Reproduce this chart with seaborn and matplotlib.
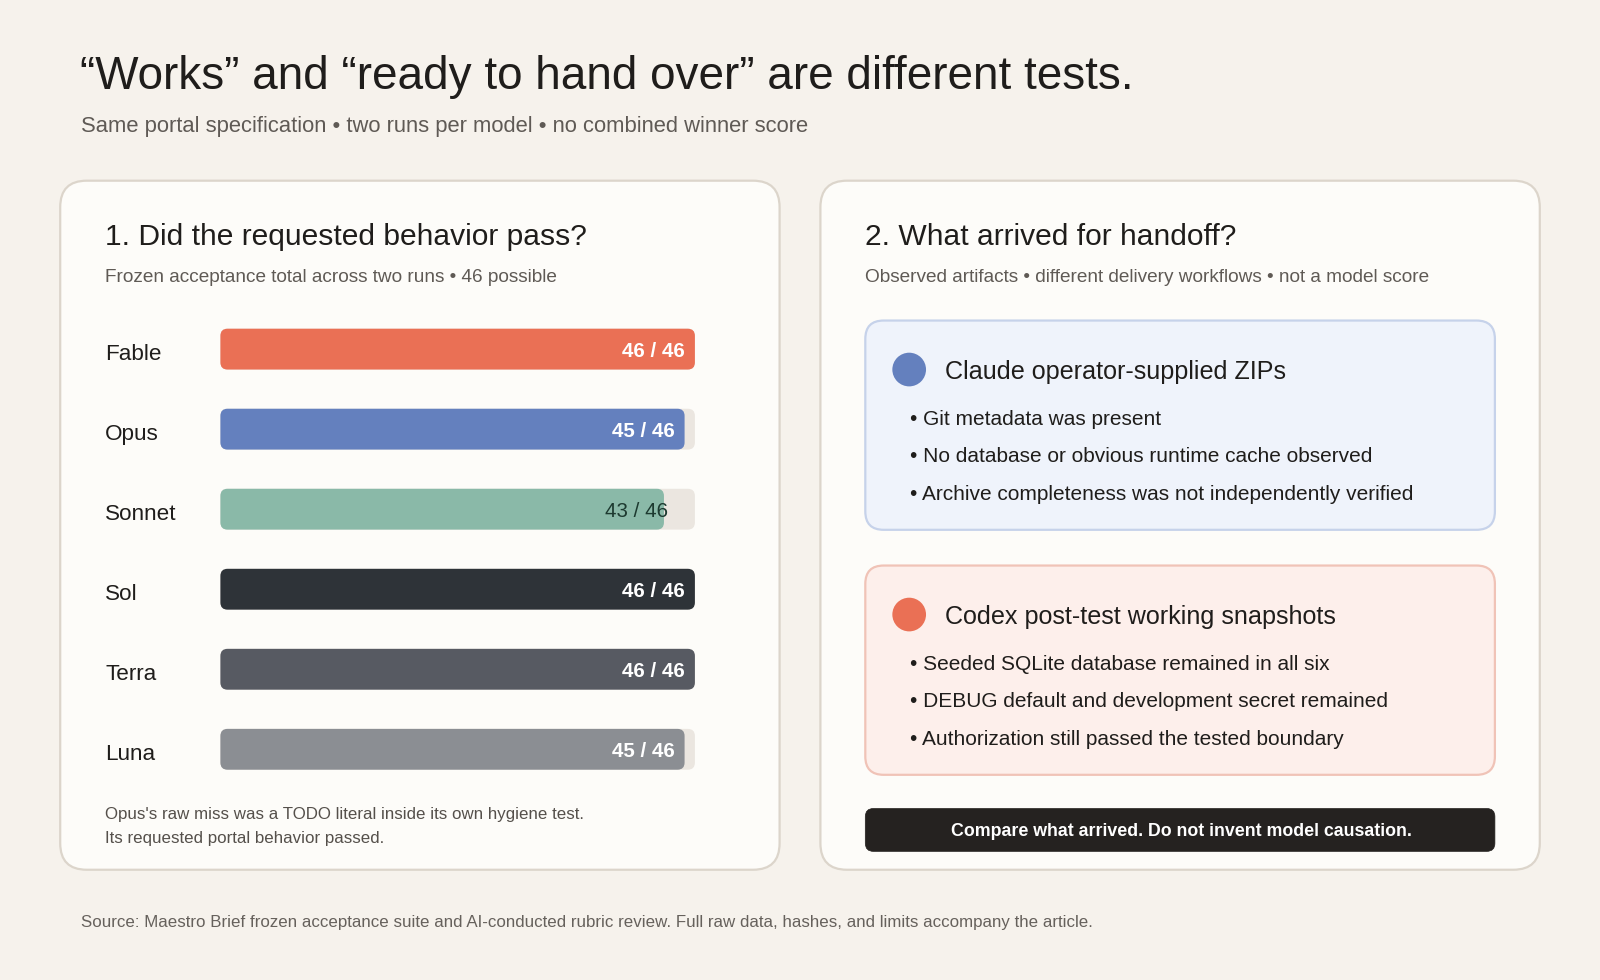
import matplotlib
matplotlib.use("Agg")
import matplotlib.pyplot as plt
from matplotlib.patches import FancyBboxPatch, Circle
from matplotlib.transforms import ScaledTranslation
import seaborn as sns
import pandas as pd

# ---------------- data ----------------
models = ["Fable", "Opus", "Sonnet", "Sol", "Terra", "Luna"]
passed = [46, 45, 43, 46, 46, 45]
possible = [46, 46, 46, 46, 46, 46]
bar_colors = ["#ea7055", "#6480be", "#8ab9a8", "#2e3338", "#575a62", "#8b8e93"]
label_colors = ["white", "white", "#1d3a30", "white", "white", "white"]

title = "\u201cWorks\u201d and \u201cready to hand over\u201d are different tests."
subtitle = "Same portal specification \u2022 two runs per model \u2022 no combined winner score"
left_title = "1. Did the requested behavior pass?"
left_sub = "Frozen acceptance total across two runs \u2022 46 possible"
left_note = ["Opus's raw miss was a TODO literal inside its own hygiene test.",
             "Its requested portal behavior passed."]
right_title = "2. What arrived for handoff?"
right_sub = "Observed artifacts \u2022 different delivery workflows \u2022 not a model score"
claude_head = "Claude operator-supplied ZIPs"
claude_items = ["Git metadata was present",
                "No database or obvious runtime cache observed",
                "Archive completeness was not independently verified"]
codex_head = "Codex post-test working snapshots"
codex_items = ["Seeded SQLite database remained in all six",
               "DEBUG default and development secret remained",
               "Authorization still passed the tested boundary"]
banner = "Compare what arrived. Do not invent model causation."
source = ("Source: Maestro Brief frozen acceptance suite and AI-conducted rubric review. "
          "Full raw data, hashes, and limits accompany the article.")

# ---------------- style ----------------
sns.set_theme(style="white")
plt.rcParams["font.family"] = ["Liberation Sans", "DejaVu Sans"]

BG = "#f6f2ec"
PANEL = "#fdfcf9"
PANEL_EDGE = "#dcd5cb"
INK = "#1f1d1b"
MUTED = "#5f5a55"
TRACK = "#ebe6e0"

W, H = 1568, 960  # reference pixel space
fig = plt.figure(figsize=(16, 9.8), dpi=100, facecolor=BG)

# background axes in reference-pixel coordinates
bg = fig.add_axes([0, 0, 1, 1], zorder=0)
bg.set_xlim(0, W)
bg.set_ylim(H, 0)
bg.axis("off")


def rbox(x0, y0, x1, y1, fc, ec, r, lw=1.6, z=1):
    p = FancyBboxPatch((x0, y0), x1 - x0, y1 - y0,
                       boxstyle=f"round,pad=0,rounding_size={r}",
                       fc=fc, ec=ec, lw=lw, zorder=z)
    bg.add_patch(p)


def txt(x, y, s, size, color=INK, weight="normal", ha="left", va="baseline"):
    bg.text(x, y, s, fontsize=size, color=color, fontweight=weight,
            ha=ha, va=va, zorder=5)


# titles
txt(78, 87, title, 33.0)
txt(79, 129, subtitle, 15.8, MUTED)

# panels
rbox(59, 177, 764, 852, PANEL, PANEL_EDGE, 26)
rbox(804, 177, 1509, 852, PANEL, PANEL_EDGE, 26)

txt(103, 240, left_title, 21.6)
txt(103, 276, left_sub, 13.7, MUTED)
txt(848, 240, right_title, 21.6)
txt(848, 276, right_sub, 13.7, MUTED)

txt(103, 802, left_note[0], 12.2, "#55504b")
txt(103, 826, left_note[1], 12.2, "#55504b")

# right panel cards
rbox(848, 314, 1465, 519, "#eff3fb", "#c6d2ea", 18)
bg.add_patch(Circle((891, 362), 16.5, fc="#6480be", ec="none", zorder=3))
txt(926, 371, claude_head, 18.1)
for i, s in enumerate(claude_items):
    txt(892, 416 + 37 * i, "\u2022 " + s, 15.0)

rbox(848, 554, 1465, 759, "#fdefeb", "#f0c3b7", 18)
bg.add_patch(Circle((891, 602), 16.5, fc="#ea7055", ec="none", zorder=3))
txt(926, 611, codex_head, 18.1)
for i, s in enumerate(codex_items):
    txt(892, 656 + 37 * i, "\u2022 " + s, 15.0)

rbox(848, 792, 1465, 834, "#252220", "#252220", 8, lw=0.5)
txt(1158, 819, banner, 12.8, "white", weight="bold", ha="center")

txt(79, 908, source, 12.15, "#66615c")

# ---------------- bar chart ----------------
step = 78.4
top = 342 - step / 2
ax = fig.add_axes([216 / W, 1 - (top + 6 * step) / H, 465 / W, 6 * step / H], zorder=2)
ax.set_facecolor("none")

df = pd.DataFrame({"model": models, "passed": passed, "possible": possible})
bar_w = 40 / step
sns.barplot(data=df, x="possible", y="model", color=TRACK, width=bar_w,
            ax=ax, orient="h")
n_track = len(ax.patches)
sns.barplot(data=df, x="passed", y="model", hue="model",
            palette=dict(zip(models, bar_colors)), width=bar_w,
            ax=ax, orient="h", legend=False, saturation=1)

ax.set_xlim(0, 46)
ax.set_ylim(5.5, -0.5)

# replace rectangles with rounded bars (geometry taken from seaborn's patches)
px_per_x = 465 / 46
px_per_y = step
radius_px = 7
rs = radius_px / px_per_x
aspect = px_per_x / px_per_y
rects = list(ax.patches)
for k, rect in enumerate(rects):
    x0, y0 = rect.get_x(), rect.get_y()
    w, h = rect.get_width(), rect.get_height()
    fc = TRACK if k < n_track else rect.get_facecolor()
    rb = FancyBboxPatch((x0, y0), w, h,
                        boxstyle=f"round,pad=0,rounding_size={rs}",
                        mutation_aspect=aspect, fc=fc, ec="none",
                        zorder=2 if k < n_track else 3)
    ax.add_patch(rb)
    rect.set_visible(False)

# value labels
for i, (v, t) in enumerate(zip(passed, possible)):
    xr = v - 10 / px_per_x if v >= 44 else v + 3.5 / px_per_x
    ax.text(xr, i, f"{v} / {t}", ha="right", va="center_baseline",
            fontsize=14.8, color=label_colors[i],
            fontweight="bold" if label_colors[i] == "white" else "normal",
            zorder=5)

ax.set_xlabel("")
ax.set_ylabel("")
ax.set_xticks([])
ax.tick_params(axis="y", length=0, pad=(216 - 103) * 0.7347)
shift = ScaledTranslation(0, -2.0 / 72, fig.dpi_scale_trans)
for lab in ax.get_yticklabels():
    lab.set_ha("left")
    lab.set_fontsize(16.2)
    lab.set_color(INK)
    lab.set_transform(lab.get_transform() + shift)
sns.despine(ax=ax, left=True, bottom=True)

fig.savefig("out.png", dpi=100, facecolor=BG)
